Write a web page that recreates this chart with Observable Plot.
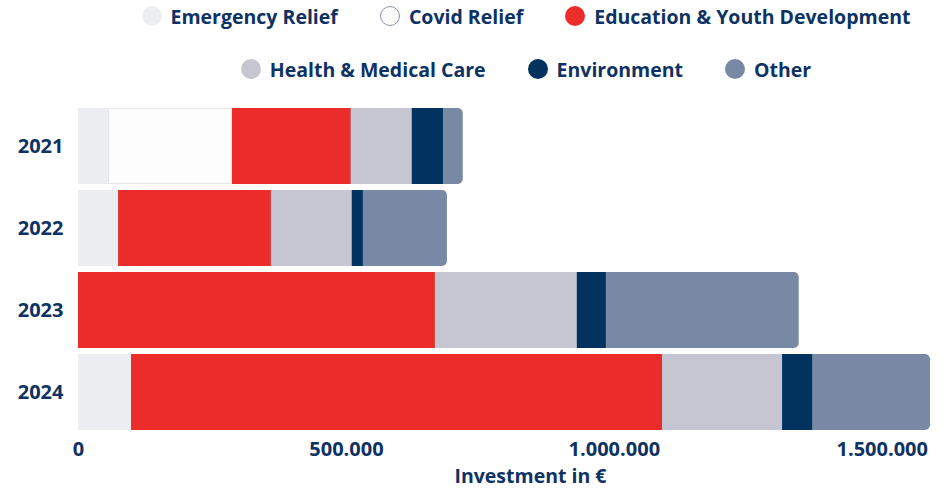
<!DOCTYPE html>
<html><head><meta charset="utf-8">
<script src="https://cdn.jsdelivr.net/npm/d3@7"></script>
<script src="https://cdn.jsdelivr.net/npm/@observablehq/plot@0.6"></script>
<style>
body{margin:0;background:#fff;font-family:"Open Sans", Lato, sans-serif;}
#legend{height:92px;position:relative;color:#0d3263;font-weight:700;font-size:19.5px;}
.row{display:flex;justify-content:center;align-items:center;position:absolute;left:106px;right:0;height:24px;}
.item{display:flex;align-items:center;margin:0 21px;white-space:nowrap;}
.sw{width:20px;height:20px;border-radius:50%;margin-right:9px;box-sizing:border-box;}
svg{display:block;}
</style></head>
<body>
<div id="legend"></div>
<div id="chart"></div>
<script>
const years = ["2021", "2022", "2023", "2024"];
const categories = ["Emergency Relief", "Covid Relief", "Education & Youth Development", "Health & Medical Care", "Environment", "Other"];
const emergencyRelief = [56000, 75000, 0, 99000];
const covidRelief = [231000, 0, 0, 0];
const education = [222000, 285000, 666000, 991000];
const health = [114000, 151000, 265000, 224000];
const environment = [58000, 20500, 54000, 56000];
const other = [37000, 157000, 360000, 220000];
const xTicks = [0, 500000, 1000000, 1500000];
const colors = ["#ecedf0", "#fdfdfd", "#ec2b2b", "#c5c6d2", "#02335f", "#7789a4"];
const legendRows = [[0, 1, 2], [3, 4, 5]];

const series = [emergencyRelief, covidRelief, education, health, environment, other];
const rows = [];
const totals = [];
years.forEach((y, i) => {
  let acc = 0;
  categories.forEach((c, j) => {
    const v = series[j][i];
    rows.push({year: y, category: c, x1: acc, x2: acc + v, value: v});
    acc += v;
  });
  totals.push({year: y, total: acc});
});

// legend
const leg = document.getElementById("legend");
legendRows.forEach((r, ri) => {
  const row = document.createElement("div");
  row.className = "row";
  row.style.top = (ri === 0 ? 4 : 57) + "px";
  r.forEach(j => {
    const it = document.createElement("div");
    it.className = "item";
    const sw = document.createElement("span");
    sw.className = "sw";
    sw.style.background = colors[j];
    if (j === 1) sw.style.border = "1px solid #8a93a6";
    const t = document.createElement("span");
    t.textContent = categories[j];
    it.append(sw, t);
    row.append(it);
  });
  leg.append(row);
});

const fmt = d3.formatLocale({decimal: ",", thousands: ".", grouping: [3], currency: ["", "€"]}).format(",");

const chart = Plot.plot({
  width: 946,
  height: 397,
  marginLeft: 78,
  marginRight: 16,
  marginTop: 16,
  marginBottom: 59,
  style: {fontFamily: "'Open Sans', Lato, sans-serif", fontSize: "20px", fontWeight: 700, color: "#0d3263", background: "#fff"},
  x: {domain: [0, 1590000]},
  y: {domain: years, paddingInner: 0.075, paddingOuter: 0},
  color: {domain: categories, range: colors},
  marks: [
    Plot.barX(totals, {y: "year", x1: 0, x2: "total", fill: colors[5], rx: 5}),
    Plot.barX(rows.filter(d => d.category !== "Other" && d.value > 0), {y: "year", x1: "x1", x2: "x2", fill: "category"}),
    Plot.barX(rows.filter(d => d.category === "Covid Relief" && d.value > 0), {y: "year", x1: "x1", x2: "x2", fill: colors[1], stroke: "#e6e7ea", strokeWidth: 1, inset: 0.5}),
    Plot.axisX({ticks: xTicks, tickFormat: fmt, tickSize: 0, tickPadding: 11, label: null, fill: "#0d3263"}),
    Plot.axisY({tickSize: 0, tickPadding: 15, label: null, fill: "#0d3263"}),
    Plot.text(["Investment in €"], {frameAnchor: "bottom", dy: 52, dx: 26, fill: "#0d3263", fontSize: 19.5, fontWeight: 700})
  ]
});
document.getElementById("chart").append(chart);
</script>
</body></html>
